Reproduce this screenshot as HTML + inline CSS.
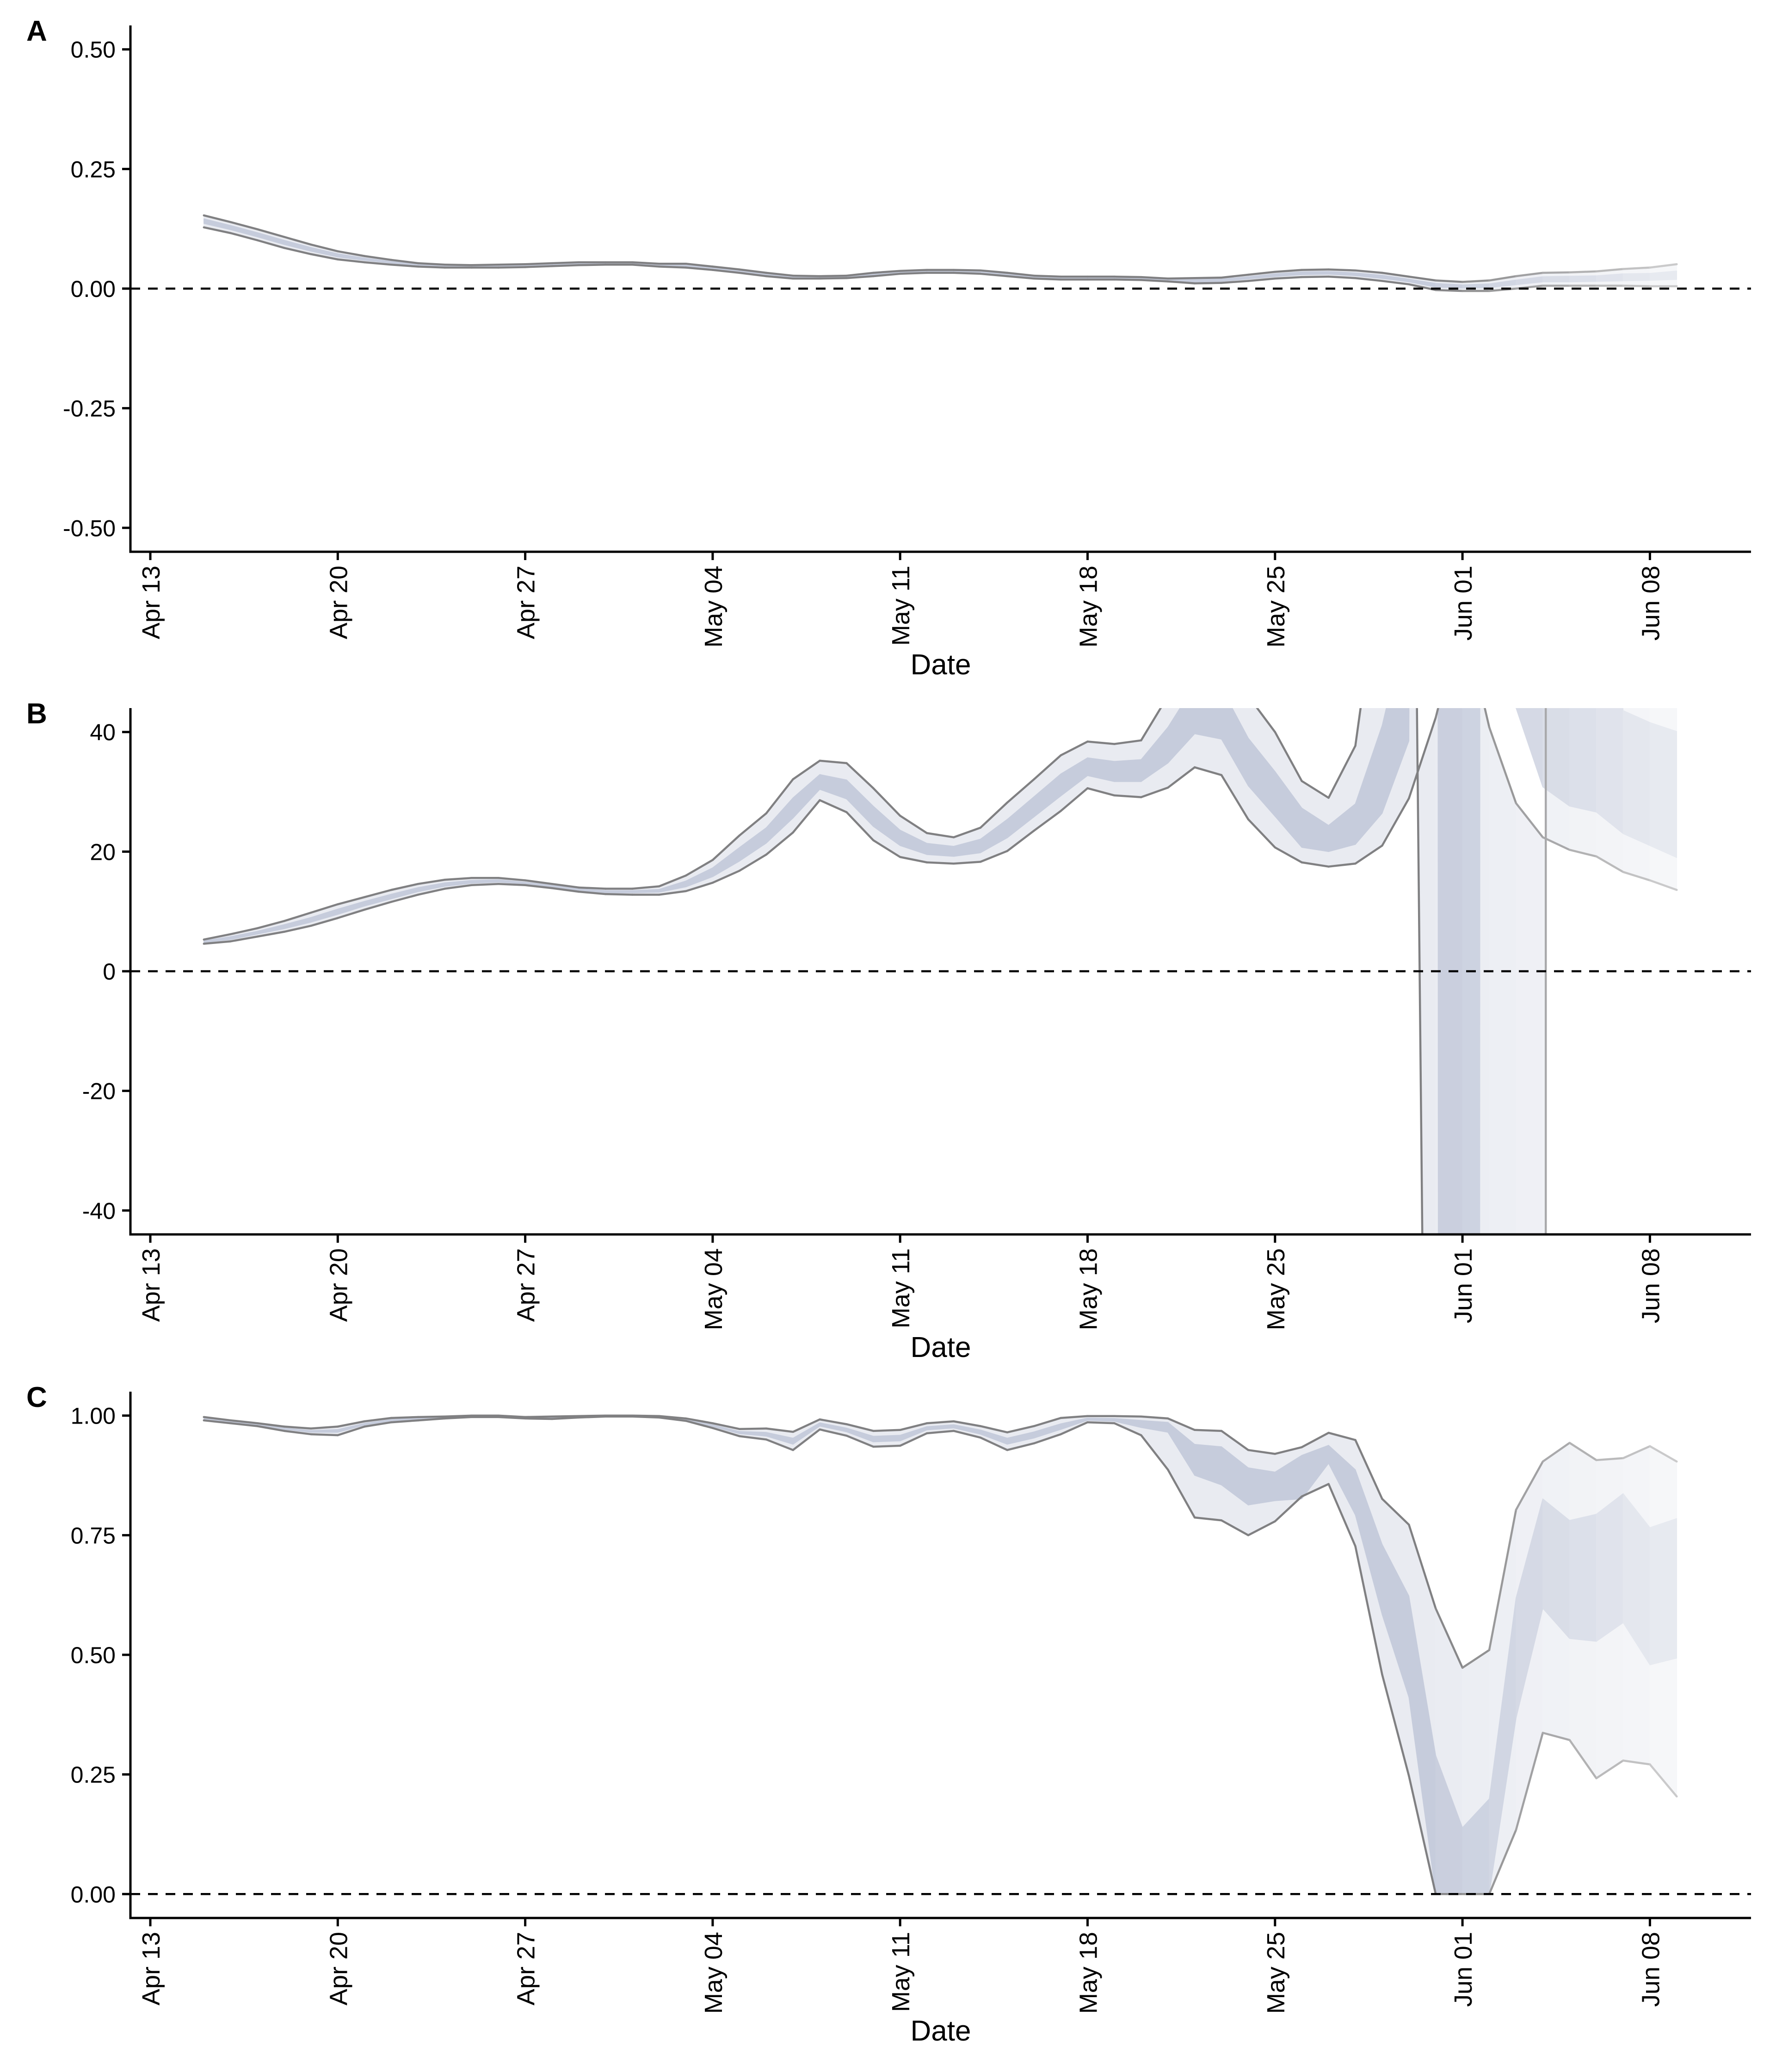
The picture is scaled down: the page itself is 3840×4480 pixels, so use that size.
<!DOCTYPE html>
<html><head><meta charset="utf-8">
<style>
html,body{margin:0;padding:0;background:#fff;overflow:hidden;width:3840px;height:4480px;}
svg{display:block;}
svg text{font-family:"Liberation Sans",Arial,sans-serif;fill:#000;}
</style></head>
<body>
<svg id="chart" width="3840" height="4480" viewBox="0 0 3840 4480" xmlns="http://www.w3.org/2000/svg" overflow="hidden">
<rect width="3840" height="4480" fill="#fff"/>
</svg>
<script>
// Shared x categories: day offsets from Apr 13
const days = [2,3,4,5,6,7,8,9,10,11,12,13,14,15,16,17,18,19,20,21,22,23,24,25,26,27,28,29,30,31,32,33,34,35,36,37,38,39,40,41,42,43,44,45,46,47,48,49,50,51,52,53,54,55,56,57];
const xTickDays = [0,7,14,21,28,35,42,49,56];
const xTickLabels = ["Apr 13","Apr 20","Apr 27","May 04","May 11","May 18","May 25","Jun 01","Jun 08"];

// Panel A
const aTicks = [0.5,0.25,0,-0.25,-0.5];
const aTickLabels = ["0.50","0.25","0.00","-0.25","-0.50"];
const aLo90 = [.128,.116,.101,.085,.072,.061,.055,.050,.046,.044,.044,.044,.045,.047,.049,.050,.050,.046,.044,.039,.033,.026,.021,.021,.022,.026,.031,.033,.033,.031,.026,.021,.019,.019,.019,.018,.015,.011,.012,.016,.021,.024,.025,.022,.016,.009,-.003,-.005,-.005,0,.006,.006,.006,.006,.005,.005];
const aHi90 = [.153,.139,.124,.108,.092,.078,.068,.060,.053,.050,.049,.050,.051,.053,.055,.055,.055,.052,.052,.046,.040,.033,.027,.026,.027,.033,.037,.039,.039,.038,.033,.027,.025,.025,.025,.024,.021,.022,.023,.029,.035,.039,.040,.038,.033,.025,.017,.014,.017,.026,.033,.034,.036,.041,.044,.051];
const aLo50 = [.136,.123,.108,.092,.078,.066,.059,.053,.048,.046,.046,.046,.047,.049,.051,.052,.052,.048,.046,.041,.035,.028,.023,.022,.024,.028,.033,.035,.035,.033,.028,.023,.021,.021,.021,.020,.017,.014,.015,.020,.025,.029,.030,.027,.021,.014,.003,.001,.002,.008,.014,.014,.015,.016,.017,.019];
const aHi50 = [.146,.132,.117,.101,.086,.073,.064,.057,.051,.048,.048,.048,.049,.051,.053,.054,.054,.050,.050,.044,.038,.031,.025,.025,.026,.031,.035,.037,.037,.036,.031,.025,.023,.023,.023,.022,.019,.019,.020,.025,.031,.035,.036,.033,.028,.020,.011,.008,.010,.018,.025,.026,.027,.031,.032,.037];

// Panel B
const bTicks = [40,20,0,-20,-40];
const bTickLabels = ["40","20","0","-20","-40"];
const bLo90 = [4.6,5.0,5.8,6.6,7.6,8.9,10.3,11.6,12.8,13.8,14.4,14.6,14.4,13.9,13.3,12.9,12.8,12.8,13.4,14.8,16.8,19.5,23.2,28.6,26.6,21.9,19.1,18.2,18.0,18.3,20.1,23.5,26.8,30.6,29.4,29.1,30.7,34.1,32.8,25.4,20.7,18.2,17.5,18.0,21.0,28.9,42.4,60,40.8,28.1,22.4,20.3,19.2,16.6,15.2,13.6];
const bHi90 = [5.3,6.2,7.2,8.4,9.8,11.2,12.4,13.6,14.6,15.3,15.6,15.6,15.2,14.6,14.0,13.8,13.8,14.2,16.0,18.6,22.7,26.4,32.1,35.2,34.8,30.6,26.0,23.1,22.4,24.0,28.2,32.1,36.1,38.4,38.0,38.6,46,55,55,46,40.0,31.8,29.0,37.7,70,176,-264,-10000,-10000,-10000,-1000000,8000000,200,200,200,200];
const bLo50 = [4.8,5.3,6.2,7.1,8.2,9.5,10.9,12.1,13.3,14.2,14.7,14.9,14.6,14.1,13.5,13.1,13.1,13.2,14.1,15.8,18.4,21.4,25.6,30.4,28.8,24.2,21.0,19.5,19.2,19.8,22.3,25.8,29.3,32.7,31.7,31.7,34.8,39.7,38.8,31.0,25.9,20.7,20.0,21.2,26.4,38.5,1000,-10000,5400,44,30.8,27.6,26.6,23.0,21.0,19.0];
const bHi50 = [5.1,5.8,6.7,7.8,9.0,10.4,11.7,12.9,14.0,14.8,15.2,15.3,14.9,14.4,13.8,13.5,13.5,13.7,15.1,17.3,20.7,24.0,29.0,32.9,32.0,27.6,23.6,21.4,20.9,22.1,25.4,29.2,33.0,35.7,35.1,35.4,40.8,47.9,47.4,39.0,33.4,27.3,24.4,28.0,41.1,60,2000,10000,8000,200,200,200,100,43.6,41.6,40.1];

// Panel C
const cTicks = [1,0.75,0.5,0.25,0];
const cTickLabels = ["1.00","0.75","0.50","0.25","0.00"];
const cLo90 = [.990,.984,.978,.968,.961,.959,.977,.986,.990,.994,.997,.997,.994,.993,.996,.998,.998,.996,.989,.974,.957,.950,.928,.971,.958,.935,.937,.963,.968,.954,.928,.942,.961,.986,.984,.959,.887,.787,.781,.750,.779,.831,.857,.727,.459,.247,0,0,0,.134,.337,.322,.242,.279,.271,.204];
const cHi90 = [.997,.990,.984,.977,.973,.977,.988,.995,.997,.998,1.0,1.0,.997,.998,.999,1.0,1.0,.999,.994,.984,.972,.973,.966,.992,.982,.968,.970,.984,.988,.978,.965,.978,.995,.999,.999,.998,.994,.970,.968,.928,.920,.934,.964,.949,.826,.772,.597,.473,.510,.803,.904,.943,.907,.911,.936,.904];
const cLo50 = [.992,.986,.980,.971,.965,.965,.980,.989,.992,.995,.998,.998,.995,.995,.997,.998,.998,.997,.990,.977,.962,.957,.940,.978,.966,.945,.947,.970,.974,.961,.940,.953,.971,.990,.988,.975,.965,.875,.855,.813,.822,.826,.900,.792,.584,.411,0,0,0,.367,.597,.534,.528,.567,.479,.493];
const cHi50 = [.995,.988,.982,.974,.969,.971,.984,.992,.995,.997,.999,.999,.996,.996,.998,.999,.999,.998,.992,.981,.967,.965,.953,.985,.974,.957,.959,.977,.981,.970,.953,.966,.983,.995,.994,.990,.986,.940,.935,.891,.882,.917,.938,.887,.731,.623,.290,.139,.199,.619,.826,.781,.794,.837,.766,.785];

const NS = "http://www.w3.org/2000/svg";
const svg = document.getElementById("chart");
const X0 = 325, DX = 57.9, AXL = 282, AXR = 3786, PH = 1138;
function xs(d){ return X0 + DX*d; }
function mk(tag, attrs, parent){
  const e = document.createElementNS(NS, tag);
  for (const k in attrs) e.setAttribute(k, attrs[k]);
  (parent||svg).appendChild(e);
  return e;
}
function fade(d){ return d<=47 ? 1 : Math.max(0.38, 1-(d-47)*0.065); }
function mix(rgb, a){
  const r = Math.round(rgb[0]*a + 255*(1-a)), g = Math.round(rgb[1]*a + 255*(1-a)), b = Math.round(rgb[2]*a + 255*(1-a));
  return "rgb("+r+","+g+","+b+")";
}
const LIGHT=[233,235,241], DARK=[198,204,220], LINE=[128,128,130];

// clip polygon (pixel coords) to horizontal slab ymin..ymax
function clipEdge(pts, inside, inter){
  const out=[];
  for(let i=0;i<pts.length;i++){
    const a=pts[i], b=pts[(i+1)%pts.length];
    const ai=inside(a), bi=inside(b);
    if(ai){ out.push(a); if(!bi) out.push(inter(a,b)); }
    else if(bi){ out.push(inter(a,b)); }
  }
  return out;
}
function clipSlab(pts, y0, y1){
  const at = (a,b,y)=>{ const t=(y-a[1])/(b[1]-a[1]); return [a[0]+t*(b[0]-a[0]), y]; };
  let p = clipEdge(pts, q=>q[1]>=y0, (a,b)=>at(a,b,y0));
  if(p.length) p = clipEdge(p, q=>q[1]<=y1, (a,b)=>at(a,b,y1));
  return p;
}
function clipSeg(a,b,y0,y1){
  let t0=0,t1=1; const dy=b[1]-a[1];
  if(dy===0){ return (a[1]<y0||a[1]>y1)?null:[a,b]; }
  let ta=(y0-a[1])/dy, tb=(y1-a[1])/dy;
  if(ta>tb){const t=ta;ta=tb;tb=t;}
  t0=Math.max(t0,ta); t1=Math.min(t1,tb);
  if(t0>t1) return null;
  const P=t=>[a[0]+t*(b[0]-a[0]), a[1]+t*dy];
  return [P(t0),P(t1)];
}

function panel(key, letter, top, ymin, ymax, ticks, tickLabels, lo90, hi90, lo50, hi50){
  const bottom = top + PH;
  const ys = v => bottom - (v - ymin)/(ymax - ymin)*PH;
  const Y0 = top-6, Y1 = bottom+6;
  const g = mk("g", {});
  
  
  const cp = mk("clipPath", {id:"clip-"+key}, g);
  mk("rect", {x:AXL, y:top, width:AXR-AXL, height:PH}, cp);
  const plot = mk("g", {"clip-path":"url(#clip-"+key+")"}, g);
  
  

  function band(lo, hi, col, name){
    for (let i=0;i<days.length-1;i++){
      const d0=days[i], d1=days[i+1], c=mix(col, fade(d0));
      const raw = [[xs(d0),ys(hi[i])],[xs(d1),ys(hi[i+1])],[xs(d1),ys(lo[i+1])],[xs(d0),ys(lo[i])]];
      // split bowtie into two triangles-ish via clipping each half
      const pts = clipSlab(raw, Y0, Y1);
      if(pts.length<3) continue;
      const p = mk("polygon", {points:pts.map(q=>q[0].toFixed(2)+","+q[1].toFixed(2)).join(" "), fill:c, stroke:c, "stroke-width":1.5, "stroke-linejoin":"round"}, plot);
      
      
    }
  }
  band(lo90, hi90, LIGHT, "ci90-band-segment");
  band(lo50, hi50, DARK, "ci50-band-segment");
  function line(vals, name){
    for (let i=0;i<days.length-1;i++){
      const s = clipSeg([xs(days[i]), ys(vals[i])], [xs(days[i+1]), ys(vals[i+1])], Y0, Y1);
      if(!s) continue;
      const l = mk("line", {x1:s[0][0].toFixed(2), y1:s[0][1].toFixed(2), x2:s[1][0].toFixed(2), y2:s[1][1].toFixed(2), stroke:mix(LINE, fade(days[i])), "stroke-width":4.5, "stroke-linecap":"round"}, plot);
      
      
    }
  }
  line(hi90, "upper-bound-line");
  line(lo90, "lower-bound-line");

  const z = mk("line", {x1:AXL, x2:AXR, y1:ys(0), y2:ys(0), stroke:"#000", "stroke-width":4.5, "stroke-dasharray":"21 17"}, g);
  
  

  const ya = mk("line", {x1:AXL, x2:AXL, y1:top, y2:bottom+2.5, stroke:"#000", "stroke-width":5}, g);
  
  
  const xa = mk("line", {x1:AXL-2.5, x2:AXR, y1:bottom, y2:bottom, stroke:"#000", "stroke-width":5}, g);
  
  

  ticks.forEach((v,i)=>{
    const y = ys(v);
    const t = mk("line", {x1:AXL-18, x2:AXL, y1:y, y2:y, stroke:"#000", "stroke-width":5}, g);
    
    
    const tx = mk("text", {x:AXL-32, y:y+18, "text-anchor":"end", "font-size":50}, g);
    tx.textContent = tickLabels[i];
    
    
  });
  xTickDays.forEach((d,i)=>{
    const x = xs(d);
    const t = mk("line", {x1:x, x2:x, y1:bottom, y2:bottom+18, stroke:"#000", "stroke-width":5}, g);
    
    
    const tx = mk("text", {x:0, y:0, "text-anchor":"end", "font-size":54, transform:"translate("+(x+20)+","+(bottom+30)+") rotate(-90)"}, g);
    tx.textContent = xTickLabels[i];
    
    
  });
  const xt = mk("text", {x:(AXL+AXR)/2, y:bottom+265, "text-anchor":"middle", "font-size":62}, g);
  xt.textContent = "Date";
  
  
  const pl = mk("text", {x:57, y:top+33, "font-size":62, "font-weight":"bold"}, g);
  pl.textContent = letter;
  
  
}
panel("a","A",55,-0.55,0.55,aTicks,aTickLabels,aLo90,aHi90,aLo50,aHi50);
panel("b","B",1531,-44,44,bTicks,bTickLabels,bLo90,bHi90,bLo50,bHi50);
panel("c","C",3009,-0.05,1.05,cTicks,cTickLabels,cLo90,cHi90,cLo50,cHi50);
</script>
</body></html>
